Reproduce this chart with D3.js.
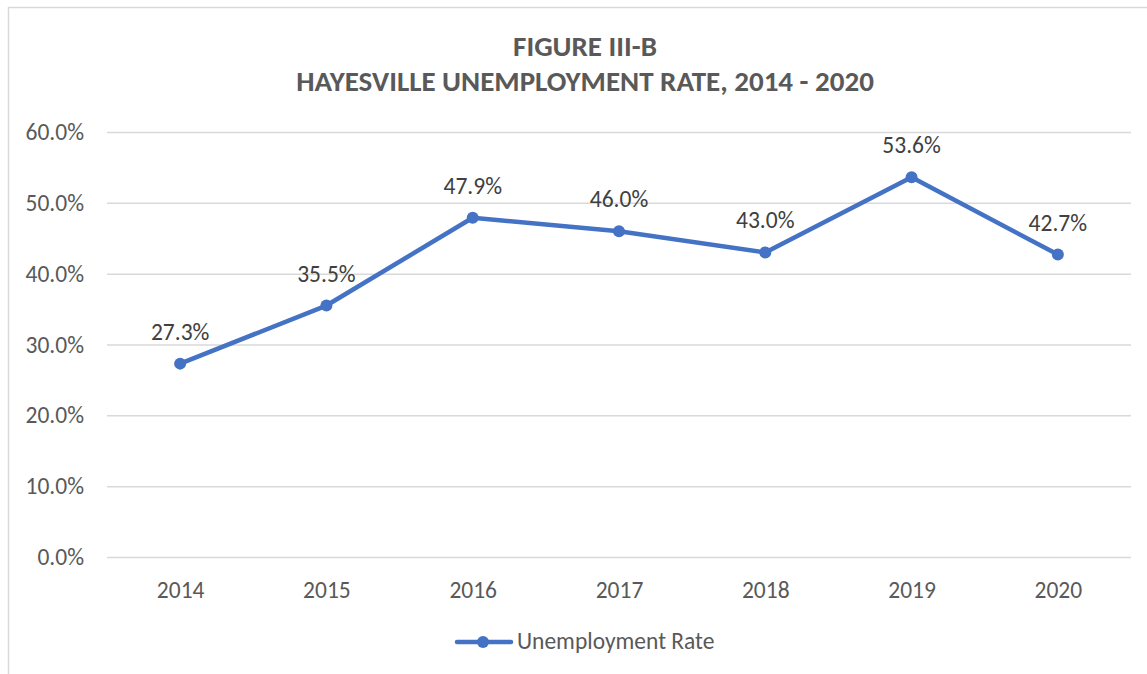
<!DOCTYPE html>
<html lang="en">
<head>
    <meta charset="UTF-8">
    <title>Hayesville Unemployment Rate</title>
    <style type="text/css">
        * {
            margin: 0;
            padding: 0;
        }

        body {
            background: #ffffff;
        }

        #chart-area {
            width: 1147px;
            height: 674px;
        }
    </style>
</head>
<body>
<div id="chart-area"></div>
<script src="https://cdn.jsdelivr.net/npm/d3@7"></script>
<script type="text/javascript">

  const WIDTH = 1147
  const HEIGHT = 674

  // data
  const years = ['2014', '2015', '2016', '2017', '2018', '2019', '2020']
  const rates = [27.3, 35.5, 47.9, 46.0, 43.0, 53.6, 42.7]
  const yTicks = [0, 10, 20, 30, 40, 50, 60]
  const titleLines = ['FIGURE III-B', 'HAYESVILLE UNEMPLOYMENT RATE, 2014 - 2020']
  const seriesName = 'Unemployment Rate'

  const FONT = 'Carlito, "Open Sans", "Liberation Sans", sans-serif'
  const TEXT = '#595959'
  const BLUE = '#4472c4'
  const LABEL_SIZE = '23.5px'

  const svg = d3.select('#chart-area').append('svg')
      .attr('width', WIDTH)
      .attr('height', HEIGHT)
      .style('font-family', FONT)

  // chart border (only left and top visible in the frame)
  svg.append('rect')
      .attr('x', 8.5)
      .attr('y', 7.5)
      .attr('width', WIDTH + 20)
      .attr('height', HEIGHT + 20)
      .attr('fill', 'none')
      .attr('stroke', '#d9d9d9')
      .attr('stroke-width', 1.5)

  const plot = {left: 107, right: 1131, top: 132, bottom: 557}

  const x = d3.scalePoint()
      .domain(years)
      .range([plot.left, plot.right])
      .padding(0.5)

  const y = d3.scaleLinear()
      .domain([0, 60])
      .range([plot.bottom, plot.top])

  // title
  svg.append('g').selectAll('text')
      .data(titleLines)
      .enter()
      .append('text')
      .attr('x', 585)
      .attr('y', (d, i) => 56 + i * 35)
      .attr('text-anchor', 'middle')
      .attr('font-size', '29px')
      .attr('font-weight', 'bold')
      .attr('fill', TEXT)
      .text(d => d)

  // gridlines + y labels
  const yAxis = d3.axisLeft(y)
      .tickValues(yTicks)
      .tickSize(-(plot.right - plot.left))
      .tickPadding(23)
      .tickFormat(d => d3.format('.1f')(d) + '%')

  const gy = svg.append('g')
      .attr('transform', `translate(${plot.left}, 0)`)
      .call(yAxis)
  gy.select('.domain').remove()
  gy.selectAll('line')
      .attr('stroke', '#d9d9d9')
      .attr('stroke-width', 1.5)
  gy.selectAll('text')
      .attr('fill', TEXT)
      .attr('font-size', LABEL_SIZE)
      .attr('font-family', FONT)

  // x labels
  const xAxis = d3.axisBottom(x)
      .tickSize(0)
      .tickPadding(24)

  const gx = svg.append('g')
      .attr('transform', `translate(0, ${plot.bottom})`)
      .call(xAxis)
  gx.select('.domain').remove()
  gx.selectAll('text')
      .attr('fill', TEXT)
      .attr('font-size', LABEL_SIZE)
      .attr('font-family', FONT)

  // series
  const points = years.map((yr, i) => ({year: yr, value: rates[i]}))

  const line = d3.line()
      .x(d => x(d.year))
      .y(d => y(d.value))

  svg.append('path')
      .datum(points)
      .attr('d', line)
      .attr('fill', 'none')
      .attr('stroke', BLUE)
      .attr('stroke-width', 4.5)
      .attr('stroke-linejoin', 'round')
      .attr('stroke-linecap', 'round')

  svg.append('g').selectAll('circle')
      .data(points)
      .enter()
      .append('circle')
      .attr('cx', d => x(d.year))
      .attr('cy', d => y(d.value))
      .attr('r', 6)
      .attr('fill', BLUE)

  svg.append('g').selectAll('text')
      .data(points)
      .enter()
      .append('text')
      .attr('x', d => x(d.year))
      .attr('y', d => y(d.value) - 24)
      .attr('text-anchor', 'middle')
      .attr('font-size', LABEL_SIZE)
      .attr('fill', '#404040')
      .text(d => d3.format('.1f')(d.value) + '%')

  // legend
  const legend = svg.append('g')
      .attr('transform', 'translate(457, 642)')
  legend.append('line')
      .attr('x1', 0)
      .attr('x2', 54)
      .attr('y1', 0)
      .attr('y2', 0)
      .attr('stroke', BLUE)
      .attr('stroke-width', 4.5)
      .attr('stroke-linecap', 'round')
  legend.append('circle')
      .attr('cx', 26)
      .attr('cy', 0)
      .attr('r', 6)
      .attr('fill', BLUE)
  legend.append('text')
      .attr('x', 60)
      .attr('y', 7)
      .attr('font-size', LABEL_SIZE)
      .attr('fill', TEXT)
      .text(seriesName)

</script>
</body>
</html>
